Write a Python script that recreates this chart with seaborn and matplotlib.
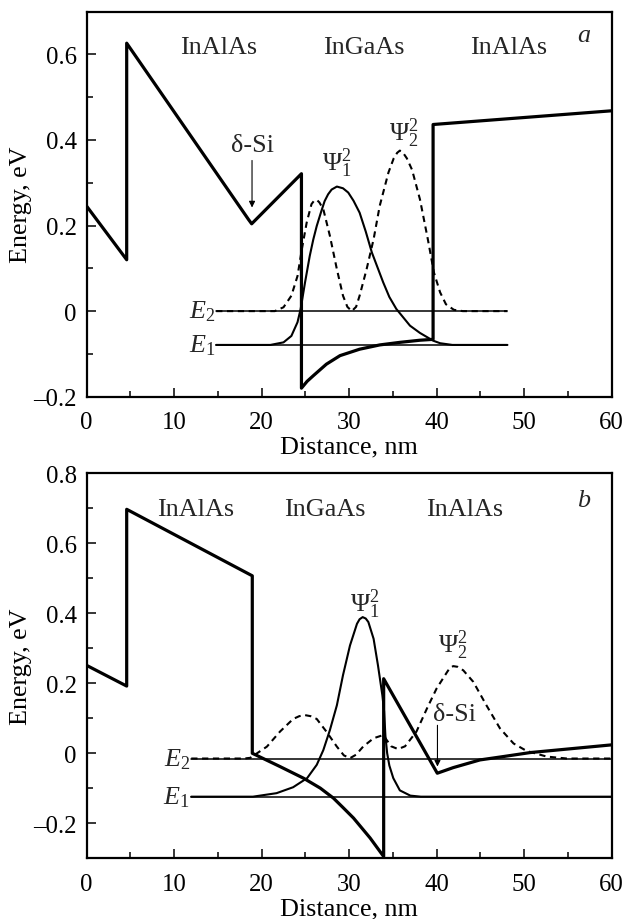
import numpy as np
import pandas as pd
import matplotlib
matplotlib.use('Agg')
import matplotlib.pyplot as plt
import seaborn as sns
from matplotlib.ticker import MultipleLocator, FuncFormatter

# ---------------- data: panel a ----------------
a_band_x = [0, 4.57, 4.57, 18.5, 18.86, 19.2, 24.55, 24.55, 25.2, 25.9, 27.4, 28.96,
            31.2, 33.5, 35.8, 38.1, 39.6, 39.6, 60]
a_band_y = [0.245, 0.12, 0.626, 0.214, 0.204, 0.211, 0.321, -0.180, -0.164, -0.151,
            -0.124, -0.104, -0.089, -0.079, -0.073, -0.068, -0.066, 0.436, 0.468]

a_psi1_x = [14.8, 21.0, 22.5, 23.4, 24.1, 24.46, 24.96, 25.5, 25.9, 26.3, 26.8, 27.2,
            27.6, 28.0, 28.6, 29.3, 29.9, 30.5, 31.2, 31.9, 32.6, 33.9, 34.6, 35.4,
            36.96, 38.1, 39.6, 40.4, 41.8, 48.1]
a_psi1_y = [-0.079, -0.079, -0.073, -0.058, -0.026, 0.005, 0.067, 0.129, 0.167, 0.199,
            0.232, 0.257, 0.273, 0.284, 0.291, 0.287, 0.277, 0.258, 0.230, 0.186,
            0.137, 0.067, 0.033, 0.005, -0.034, -0.051, -0.069, -0.075, -0.079, -0.079]

a_psi2_x = [14.8, 21.5, 22.5, 23.4, 24.1, 24.6, 25.15, 25.7, 26.0, 26.3, 26.6, 27.05,
            27.8, 28.6, 29.3, 29.8, 30.3, 30.8, 31.2, 32.0, 32.8, 33.5, 34.5, 35.1,
            35.5, 35.8, 36.1, 36.6, 37.2, 38.1, 39.0, 39.7, 40.4, 41.07, 41.98, 43.0,
            48.1]
a_psi2_y = [0, 0, 0.009, 0.036, 0.082, 0.145, 0.207, 0.250, 0.258, 0.260, 0.254, 0.238,
            0.176, 0.098, 0.036, 0.010, 0.0, 0.010, 0.036, 0.098, 0.168, 0.246, 0.324,
            0.357, 0.370, 0.375, 0.372, 0.357, 0.330, 0.261, 0.168, 0.090, 0.044,
            0.016, 0.003, 0, 0]

a_levels = [0.0, -0.079]          # E2, E1
a_level_x = [14.8, 48.1]

# ---------------- data: panel b ----------------
b_band_x = [0, 4.57, 4.57, 18.93, 18.93, 22.1, 24.77, 26.7, 28.2, 29.3, 30.5, 31.6,
            32.4, 33.95, 33.95, 40.08, 41.9, 44.96, 47.6, 50.7, 60]
b_band_y = [0.251, 0.192, 0.697, 0.507, 0.0, -0.038, -0.071, -0.0995, -0.128, -0.155,
            -0.185, -0.218, -0.242, -0.295, 0.213, -0.057, -0.041, -0.019, -0.0095,
            0.002, 0.024]

b_psi1_x = [11.95, 19.0, 21.7, 23.6, 25.2, 26.3, 27.05, 27.8, 28.6, 29.3, 30.1, 30.9,
            31.2, 31.55, 31.9, 32.2, 32.8, 33.3, 33.8, 34.0, 34.15, 34.35, 34.6, 35.05,
            35.8, 37.0, 38.2, 60]
b_psi1_y = [-0.124, -0.124, -0.114, -0.097, -0.071, -0.033, 0.009, 0.066, 0.137, 0.223,
            0.308, 0.370, 0.383, 0.389, 0.385, 0.375, 0.327, 0.251, 0.166, 0.120, 0.050,
            0.0, -0.035, -0.071, -0.106, -0.121, -0.124, -0.124]

b_psi2_x = [11.95, 18.0, 18.7, 20.6, 22.1, 23.6, 24.3, 24.96, 25.6, 26.3, 27.4, 28.6,
            29.4, 30.1, 30.8, 31.6, 32.8, 33.9, 34.8, 35.6, 36.4, 37.7, 38.9, 40.0,
            41.2, 41.5, 41.9, 42.4, 43.05, 44.2, 45.7, 47.25, 48.8, 50.3, 52.6, 54.9,
            60]
b_psi2_y = [-0.015, -0.015, -0.013, 0.019, 0.062, 0.098, 0.106, 0.109, 0.106, 0.098,
            0.062, 0.019, -0.006, -0.014, -0.004, 0.019, 0.043, 0.052, 0.020, 0.012,
            0.020, 0.062, 0.128, 0.185, 0.232, 0.243, 0.249, 0.247, 0.237, 0.204,
            0.137, 0.071, 0.028, 0.0066, -0.0095, -0.015, -0.015]

b_levels = [-0.015, -0.124]       # E2, E1
b_level_x = [11.95, 60]

layer_labels = ["InAlAs", "InGaAs", "InAlAs"]
a_layer_x = [15.1, 31.7, 48.25]
b_layer_x = [12.5, 27.2, 43.2]

# ---------------- style ----------------
sns.set_theme(style='ticks')
plt.rcParams['font.family'] = ['Liberation Serif', 'DejaVu Serif']
plt.rcParams['mathtext.fontset'] = 'custom'
plt.rcParams['mathtext.rm'] = 'Liberation Serif'
plt.rcParams['mathtext.it'] = 'Liberation Serif:italic'
plt.rcParams['mathtext.bf'] = 'Liberation Serif:bold'

FS = 18.8
TFS = 17.8
fig = plt.figure(figsize=(6.27, 9.2), dpi=100)
axA = fig.add_axes([0.1383, 0.5677, 0.8370, 0.4187])
axB = fig.add_axes([0.1383, 0.0660, 0.8370, 0.4185])


def yfmt(v, p):
    if abs(v) < 1e-9:
        return '0'
    s = f'{v:.1f}'
    return s.replace('-', '\u2013')


def draw(ax, band_x, band_y, p1x, p1y, p2x, p2y, levels, level_x, ylim):
    for lv in levels:
        sns.lineplot(x=level_x, y=[lv, lv], ax=ax, sort=False, estimator=None,
                     color='black', lw=1.1)
    sns.lineplot(x=p2x, y=p2y, ax=ax, sort=False, estimator=None,
                 color='black', lw=1.5)
    ax.lines[-1].set_dashes([3.0, 2.2])
    sns.lineplot(x=p1x, y=p1y, ax=ax, sort=False, estimator=None,
                 color='black', lw=1.5)
    sns.lineplot(x=band_x, y=band_y, ax=ax, sort=False, estimator=None,
                 color='black', lw=2.3)
    for ln in ax.lines:
        ln.set_solid_joinstyle('round')
        ln.set_dash_joinstyle('round')
    ax.set_xlim(0, 60)
    ax.set_ylim(*ylim)
    ax.xaxis.set_major_locator(MultipleLocator(10))
    ax.xaxis.set_minor_locator(MultipleLocator(5))
    ax.yaxis.set_major_locator(MultipleLocator(0.2))
    ax.yaxis.set_minor_locator(MultipleLocator(0.1))
    ax.yaxis.set_major_formatter(FuncFormatter(yfmt))
    ax.tick_params(which='both', direction='in', top=False, right=False,
                   width=1.1, colors='black', labelsize=TFS)
    ax.tick_params(axis='x', which='major', length=6.5, pad=10.5)
    ax.tick_params(axis='y', which='major', length=6.5, pad=7)
    ax.tick_params(which='minor', length=4.5)
    for sp in ax.spines.values():
        sp.set_visible(True)
        sp.set_linewidth(1.6)
        sp.set_color('black')
    ax.set_xlabel('Distance, nm', fontsize=FS, color='black')
    ax.set_ylabel('Energy, eV', fontsize=FS, color='black')
    ax.xaxis.set_label_coords(0.5, -0.101)
    ax.yaxis.set_label_coords(-0.105, 0.5)
    ax.set_facecolor('white')


draw(axA, a_band_x, a_band_y, a_psi1_x, a_psi1_y, a_psi2_x, a_psi2_y,
     a_levels, a_level_x, (-0.2, 0.7))
draw(axB, b_band_x, b_band_y, b_psi1_x, b_psi1_y, b_psi2_x, b_psi2_y,
     b_levels, b_level_x, (-0.3, 0.8))

# ---------- annotations panel a ----------
for lab, xx in zip(layer_labels, a_layer_x):
    axA.text(xx, 0.617, lab, ha='center', va='center', fontsize=FS)
axA.text(56.8, 0.646, 'a', ha='center', va='center', fontsize=FS, style='italic')
axA.text(18.9, 0.388, '\u03b4-Si', ha='center', va='center', fontsize=FS)
axA.annotate('', xy=(18.9, 0.242), xytext=(18.9, 0.352),
             arrowprops=dict(arrowstyle='-|>', lw=0.8, color='black',
                             mutation_scale=9, shrinkA=0, shrinkB=0))
axA.text(28.6, 0.347, r'$\Psi_1^2$', ha='center', va='center', fontsize=FS)
axA.text(36.3, 0.417, r'$\Psi_2^2$', ha='center', va='center', fontsize=FS)
axA.text(14.7, a_levels[0], r'$E_2$', ha='right', va='center', fontsize=FS)
axA.text(14.7, a_levels[1], r'$E_1$', ha='right', va='center', fontsize=FS)

# ---------- annotations panel b ----------
for lab, xx in zip(layer_labels, b_layer_x):
    axB.text(xx, 0.697, lab, ha='center', va='center', fontsize=FS)
axB.text(56.85, 0.725, 'b', ha='center', va='center', fontsize=FS, style='italic')
axB.text(42.0, 0.111, '\u03b4-Si', ha='center', va='center', fontsize=FS)
axB.annotate('', xy=(40.1, -0.038), xytext=(40.1, 0.080),
             arrowprops=dict(arrowstyle='-|>', lw=0.8, color='black',
                             mutation_scale=9, shrinkA=0, shrinkB=0))
axB.text(31.8, 0.429, r'$\Psi_1^2$', ha='center', va='center', fontsize=FS)
axB.text(41.85, 0.311, r'$\Psi_2^2$', ha='center', va='center', fontsize=FS)
axB.text(11.8, b_levels[0], r'$E_2$', ha='right', va='center', fontsize=FS)
axB.text(11.8, b_levels[1], r'$E_1$', ha='right', va='center', fontsize=FS)

fig.savefig('out.png', dpi=100, facecolor='white')
